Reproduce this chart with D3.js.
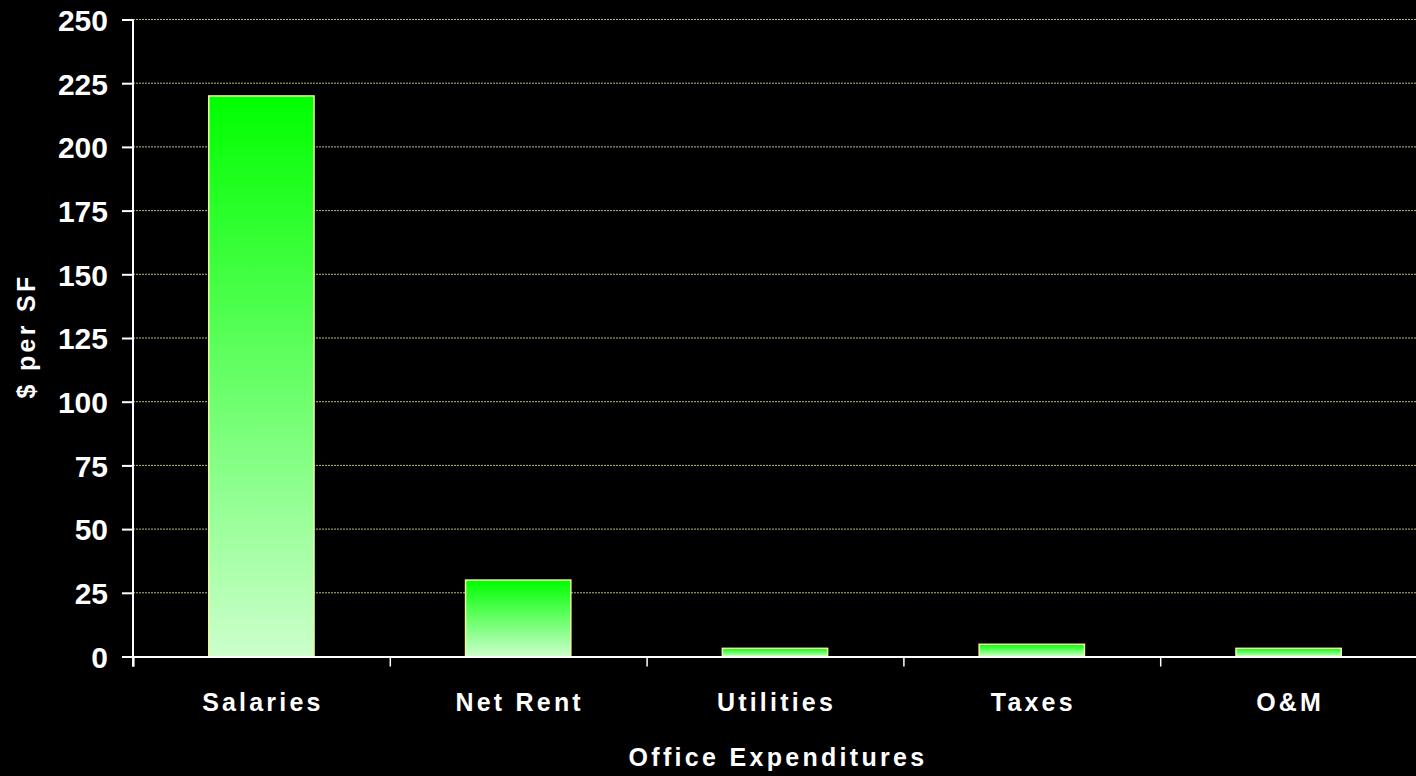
<!DOCTYPE html>
<html>
<head>
<meta charset="utf-8">
<script src="https://cdn.jsdelivr.net/npm/d3@7"></script>
<style>
  html, body { margin: 0; padding: 0; background: #000; }
  svg { display: block; }
  text { font-family: "Liberation Sans", Arial, sans-serif; font-weight: bold; fill: #fff; }
</style>
</head>
<body>
<div class="chart"></div>
<script>
// Chart data
const categories = ["Salaries", "Net Rent", "Utilities", "Taxes", "O&M"]
const values = [220, 30, 3.2, 4.8, 3.2]
const yTicks = [0, 25, 50, 75, 100, 125, 150, 175, 200, 225, 250]

const draw_chart = () => {
    const width = 1416
    const height = 776
    const margin = ({top: 19.5, right: -1, bottom: 119.5, left: 133})
    const plotW = width - margin.left - margin.right
    const plotH = height - margin.top - margin.bottom

    let svg = d3.select('.chart').append('svg')
        .attr("width", width)
        .attr("height", height)
        .style("background", "#000")

    // Gradient for bars
    let grad = svg.append("defs").append("linearGradient")
        .attr("id", "barGrad")
        .attr("x1", 0).attr("y1", 0).attr("x2", 0).attr("y2", 1)
    grad.append("stop").attr("offset", "0%").attr("stop-color", "#00ff00")
    grad.append("stop").attr("offset", "100%").attr("stop-color", "#ccffcc")

    let g = svg.append("g")
        .attr("transform", `translate(${margin.left},${margin.top})`)

    // Scales
    const xScale = d3.scaleBand()
        .domain(categories)
        .range([0, plotW])
    const xEdge = d3.scaleLinear()
        .domain([0, categories.length])
        .range([0, plotW])
    const yScale = d3.scaleLinear()
        .domain([0, 250])
        .range([plotH, 0])

    // Grid lines
    g.append("g")
        .selectAll("line")
        .data(yTicks.filter(d => d > 0))
        .enter()
        .append("line")
            .attr("x1", 0)
            .attr("x2", plotW)
            .attr("y1", d => yScale(d))
            .attr("y2", d => yScale(d))
            .attr("stroke", "#bdb87c")
            .attr("stroke-width", 1)
            .attr("stroke-dasharray", "2,1")

    // Bars
    const barW = xScale.bandwidth() * 0.41
    g.selectAll(".bar")
        .data(values)
        .enter()
        .append("rect")
            .attr("class", "bar")
            .attr("x", (d, i) => xScale(categories[i]) + (xScale.bandwidth() - barW) / 2)
            .attr("y", d => yScale(d))
            .attr("width", barW)
            .attr("height", d => plotH - yScale(d))
            .attr("fill", "url(#barGrad)")
            .attr("stroke", "#eef5a0")
            .attr("stroke-width", 1.5)

    // Y axis
    const yAxis = d3.axisLeft(yScale)
        .tickValues(yTicks)
        .tickSize(11)
        .tickPadding(14)
    let ya = g.append("g").call(yAxis)
    ya.select(".domain").remove()
    ya.selectAll("line").attr("stroke", "#fff").attr("stroke-width", 2)
    ya.selectAll("text")
        .attr("fill", "#fff")
        .style("font-size", "30px")
        .attr("dy", "0.36em")
    g.append("line")
        .attr("x1", 0).attr("x2", 0)
        .attr("y1", 0).attr("y2", plotH + 10)
        .attr("stroke", "#fff").attr("stroke-width", 2)

    // X axis (ticks at category boundaries)
    const xAxis = d3.axisBottom(xEdge)
        .tickValues(d3.range(categories.length + 1))
        .tickSize(10)
        .tickFormat("")
    let xa = g.append("g")
        .attr("transform", `translate(0,${plotH})`)
        .call(xAxis)
    xa.select(".domain").attr("stroke", "#fff").attr("stroke-width", 2)
    xa.selectAll("line").attr("stroke", "#fff").attr("stroke-width", 1.5)

    // Category labels
    g.selectAll(".cat")
        .data(categories)
        .enter()
        .append("text")
            .attr("class", "cat")
            .attr("x", d => xScale(d) + xScale.bandwidth() / 2 + 1.5)
            .attr("y", plotH + 54)
            .attr("text-anchor", "middle")
            .style("font-size", "25px")
            .style("letter-spacing", "3.2px")
            .text(d => d)

    // X-axis title
    svg.append("text")
        .attr("x", margin.left + plotW / 2 + 3)
        .attr("y", 766)
        .attr("text-anchor", "middle")
        .style("font-size", "25px")
        .style("letter-spacing", "3.3px")
        .text("Office Expenditures")

    // Y-axis title
    svg.append("text")
        .attr("transform", "translate(35,336) rotate(-90)")
        .attr("text-anchor", "middle")
        .style("font-size", "25px")
        .style("letter-spacing", "3.3px")
        .text("$ per SF")
}

draw_chart()
</script>
</body>
</html>
